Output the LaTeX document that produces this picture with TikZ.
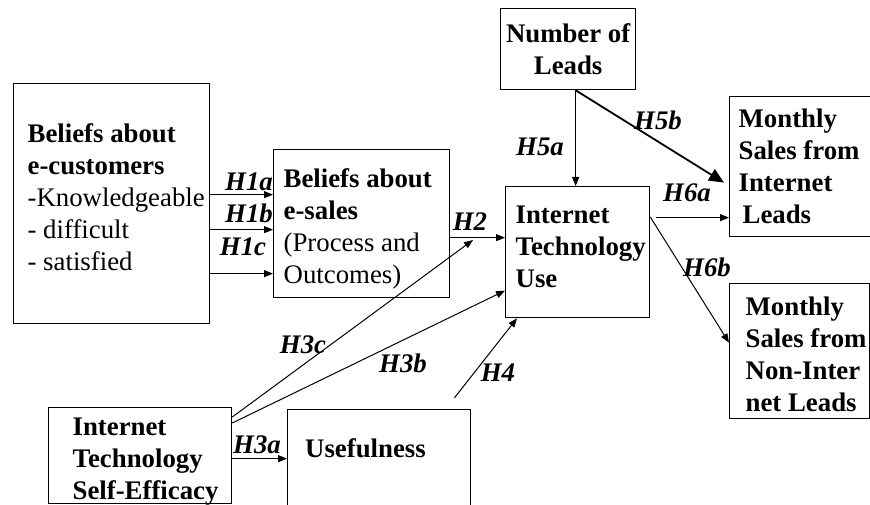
\documentclass[tikz,border=0pt]{standalone}
\usepackage{fontspec}
\setmainfont{Liberation Serif}
\usetikzlibrary{arrows.meta}
\begin{document}
\fontsize{26.8}{32}\selectfont
\begin{tikzpicture}[x=1pt,y=-1pt,
  box/.style={draw,line width=1.3pt,anchor=north west,align=flush left,inner ysep=0pt},
  hl/.style={font=\bfseries\itshape,inner sep=0pt},
  arr/.style={line width=1pt,-{Triangle[length=9pt,width=7pt]}}]
\useasboundingbox (0,0) rectangle (870,505);
\clip (0,0) rectangle (870,505);
\node[box,minimum width=196pt,minimum height=240pt,text width=168pt,inner xsep=14pt,text height=6pt,text depth=128pt] (ecust) at (13,83) {\textbf{Beliefs about}\\\textbf{\mbox{e-customers}}\\\mbox{-Knowledgeable}\\- difficult\\- satisfied};
\node[box,minimum width=176pt,minimum height=148pt,text width=156pt,inner xsep=10pt,text height=24pt,text depth=96pt] (esales) at (273,149) {\textbf{Beliefs about}\\\textbf{e-sales}\\(Process and\\Outcomes)};
\node[box,font=\bfseries,align=flush center,minimum width=135pt,minimum height=81pt,text width=127pt,inner xsep=4pt] (leads) at (500,8) {\mbox{Number of}\\Leads};
\node[box,font=\bfseries,minimum width=144pt,minimum height=131pt,text width=124pt,inner xsep=10pt,text height=6pt,text depth=64pt] (itu) at (505,186) {Internet\\\mbox{Technology}\\Use};
\node[box,font=\bfseries,minimum width=140pt,minimum height=140pt,text width=123pt,inner xsep=9pt] (msi) at (729,96) {Monthly\\\mbox{Sales from}\\Internet\\\hspace*{4pt}Leads};
\node[box,font=\bfseries,minimum width=140pt,minimum height=135pt,text width=108pt,inner xsep=16pt,text height=24pt,text depth=96pt] (msn) at (729,283) {Monthly\\\mbox{Sales from}\\\mbox{Non-Inter}\\\mbox{net Leads}};
\node[box,font=\bfseries,minimum width=183pt,minimum height=96pt,text width=135pt,inner xsep=24pt,text height=24pt,text depth=64pt] (selfeff) at (48,407) {Internet\\\mbox{Technology}\\\mbox{Self-Efficacy}};
\node[box,minimum width=183pt,minimum height=98pt] (useful) at (287,409) {};
\node[anchor=west,font=\bfseries,inner sep=0pt] (usetxt) at (305,448) {Usefulness};
\node[hl] (h1a) at (249,182) {H1a};
\node[hl] (h1b) at (249,213) {H1b};
\node[hl] (h1c) at (243,247) {H1c};
\node[hl] (h2) at (470,222) {H2};
\node[hl] (h3a) at (257,445) {H3a};
\node[hl] (h3b) at (403,363) {H3b};
\node[hl] (h3c) at (303,345) {H3c};
\node[hl] (h4) at (498,373) {H4};
\node[hl] (h5a) at (540,147) {H5a};
\node[hl] (h5b) at (658,120) {H5b};
\node[hl] (h6a) at (687,193) {H6a};
\node[hl] (h6b) at (707,267) {H6b};
\coordinate (h3ctip) at (473,240);
\draw[arr] ([yshift=9pt]ecust.east) -- ([yshift=29pt]esales.west);
\draw[arr] ([yshift=-26pt]ecust.east) -- ([yshift=-6pt]esales.west);
\draw[arr] ([yshift=-70pt]ecust.east) -- ([yshift=-50pt]esales.west);
\draw[arr] ([yshift=-14pt]esales.east) -- ([yshift=14.5pt]itu.west);
\draw[arr] ([yshift=-10pt]selfeff.north east) -- (h3ctip);
\draw[arr] ([yshift=-16pt]selfeff.north east) -- ([yshift=-38.5pt]itu.west);
\draw[arr] ([yshift=-3pt]selfeff.east) -- (useful.west);
\draw[arr] ([xshift=-17pt,yshift=11pt]useful.north east) -- ([xshift=12pt]itu.south west);
\draw[arr] ([xshift=7.5pt]leads.south) -- ([xshift=-2pt]itu.north);
\draw[line width=1.8pt,-{Triangle[length=15pt,width=13pt]}] ([xshift=7.5pt]leads.south) -- ([xshift=-5pt,yshift=-16pt]msi.west);
\draw[arr] ([xshift=6pt,yshift=34.5pt]itu.east) -- ([yshift=-51pt]msi.west);
\draw[arr] ([yshift=-31pt]itu.north east) -- ([yshift=8.5pt]msn.west);
\end{tikzpicture}
\end{document}
